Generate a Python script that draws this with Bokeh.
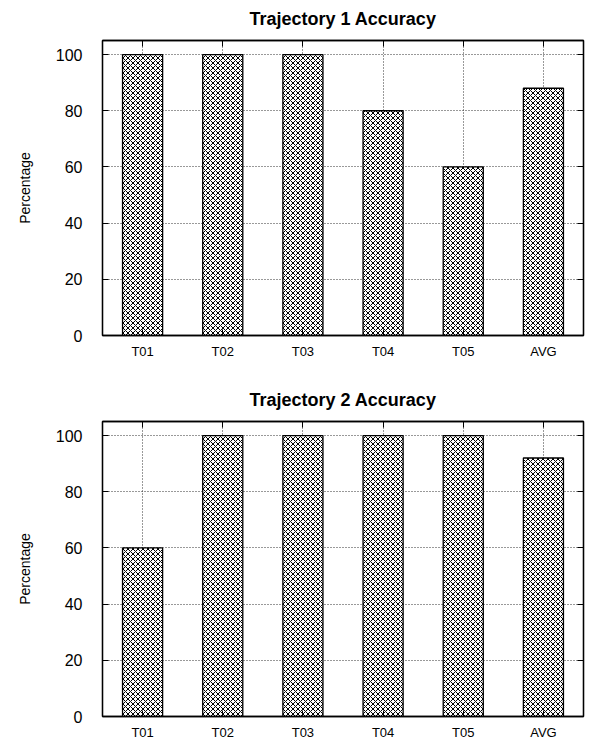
from bokeh.plotting import figure
from bokeh.models import (FactorRange, Range1d, LinearAxis, CategoricalAxis,
                          ColumnDataSource, FixedTicker, CustomLabelingPolicy)
from bokeh.layouts import column
from bokeh.embed import file_html
from bokeh.resources import INLINE

categories = ["T01", "T02", "T03", "T04", "T05", "AVG"]
traj1_values = [100, 100, 100, 80, 60, 88]
traj2_values = [60, 100, 100, 100, 100, 92]
y_ticks = [0, 20, 40, 60, 80, 100]
titles = ["Trajectory 1 Accuracy", "Trajectory 2 Accuracy"]

FONT = "Liberation Sans"

HIDE = "for (const i of Array.from(indices)) { indices.unset(i) }"


def mirror(ax):
    ax.major_label_policy = CustomLabelingPolicy(code=HIDE)
    ax.major_label_standoff = 0
    ax.major_label_text_font_size = "2px"
    ax.major_tick_in = 6
    ax.major_tick_out = 0
    ax.axis_line_color = "black"
    ax.axis_line_width = 1.3
    ax.major_tick_line_color = "black"


def make(title, vals, height, b_top, b_bottom):
    p = figure(x_range=FactorRange(*categories, range_padding=0),
               y_range=Range1d(0, 105),
               width=589, height=height,
               min_border_left=102, min_border_right=1,
               min_border_top=b_top, min_border_bottom=b_bottom,
               output_backend="svg", toolbar_location=None)
    src = ColumnDataSource(dict(x=categories, top=vals))
    p.vbar(x="x", top="top", width=0.5, source=src,
           fill_color="white", line_color="black", line_width=1.3,
           hatch_pattern="x", hatch_color="black", hatch_scale=5,
           hatch_weight=1)
    p.title.text = title
    p.title.align = "center"
    p.title.text_font = FONT
    p.title.text_font_size = "18px"
    p.title.text_font_style = "bold"
    p.title.text_color = "black"
    p.title.standoff = 13

    p.outline_line_color = "black"
    p.outline_line_width = 1.3
    p.outline_line_alpha = 1

    p.yaxis.ticker = FixedTicker(ticks=y_ticks)
    p.yaxis.axis_label = "Percentage"
    p.yaxis.axis_label_text_font = FONT
    p.yaxis.axis_label_text_font_size = "14px"
    p.yaxis.axis_label_text_font_style = "normal"
    p.yaxis.axis_label_text_color = "black"
    p.yaxis.axis_label_standoff = 20
    p.yaxis.major_label_text_font = FONT
    p.yaxis.major_label_text_font_size = "16px"
    p.yaxis.major_label_text_color = "black"
    p.yaxis.major_label_standoff = 20
    p.yaxis.minor_tick_line_color = None

    p.xaxis.major_label_text_font = FONT
    p.xaxis.major_label_text_font_size = "13px"
    p.xaxis.major_label_text_color = "black"
    p.xaxis.major_label_standoff = 8

    for ax in p.axis:
        ax.axis_line_color = "black"
        ax.axis_line_width = 1.3
        ax.major_tick_in = 6
        ax.major_tick_out = 0
        ax.major_tick_line_color = "black"
        ax.major_tick_line_width = 1

    ra = LinearAxis(ticker=FixedTicker(ticks=y_ticks))
    ra.minor_tick_line_color = None
    mirror(ra)
    p.add_layout(ra, "right")

    ta = CategoricalAxis()
    mirror(ta)
    p.add_layout(ta, "above")

    for g in (p.xgrid, p.ygrid):
        g.grid_line_color = "#333333"
        g.grid_line_dash = "1 2"
        g.grid_line_width = 1
    return p


p1 = make(titles[0], traj1_values, 381, 39, 46)
p2 = make(titles[1], traj2_values, 361, 39, 26)
layout = column(p1, p2, spacing=0)

open("out.html", "w").write(file_html(layout, INLINE))
